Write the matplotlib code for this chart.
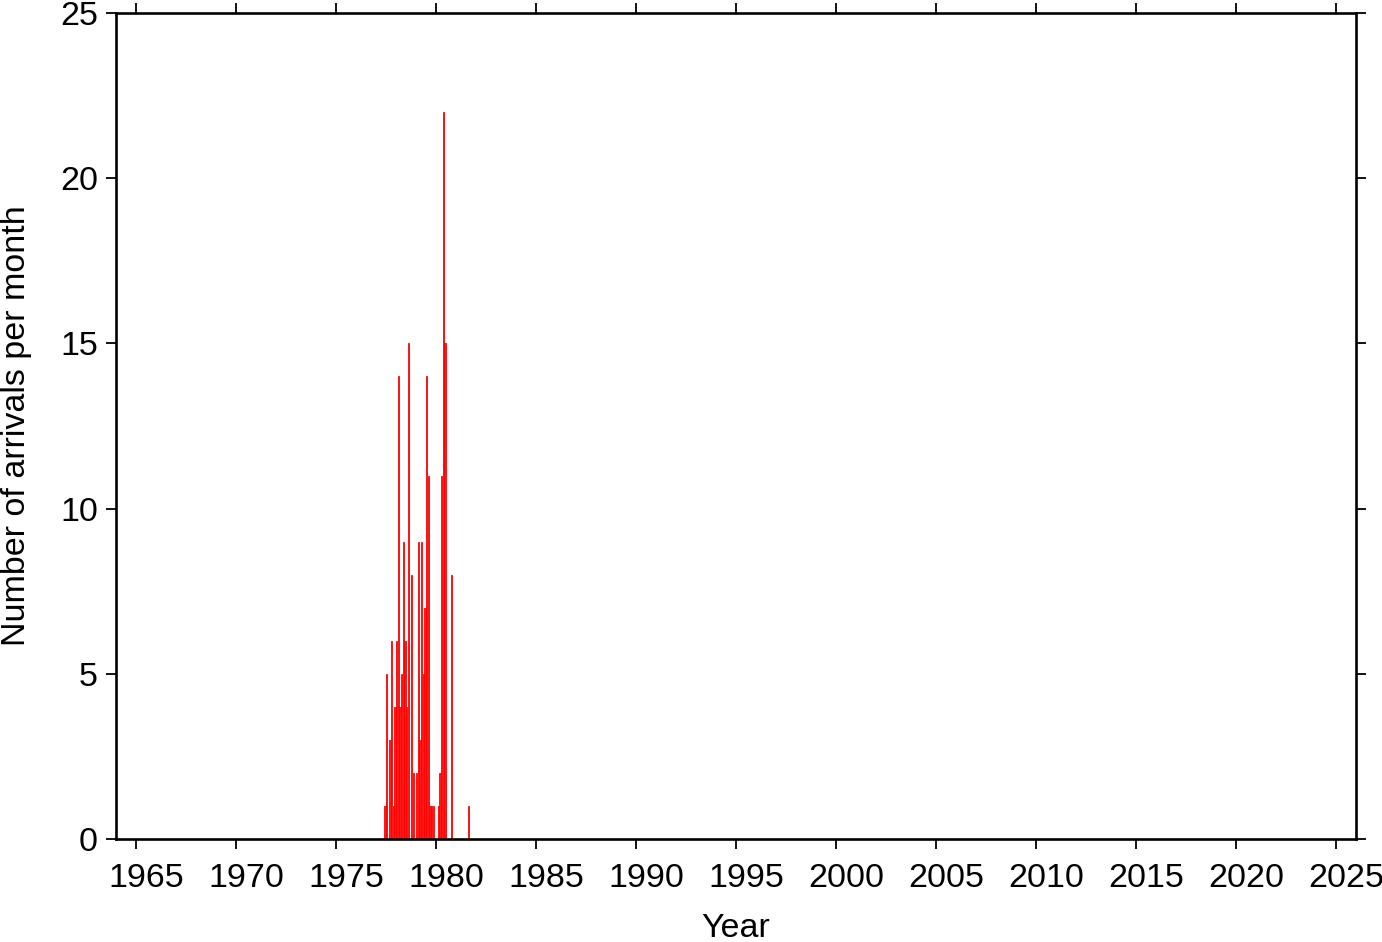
import matplotlib
matplotlib.use("Agg")
import matplotlib.pyplot as plt
import matplotlib.transforms as mtransforms
import pandas as pd

plt.rcParams['font.family'] = ['Liberation Sans', 'DejaVu Sans']

# months with arrivals (months not listed have zero)
months = ['1977-06', '1977-07', '1977-09', '1977-10', '1977-11', '1977-12',
          '1978-01', '1978-02', '1978-03', '1978-04', '1978-05', '1978-06',
          '1978-07', '1978-08', '1978-10', '1978-11',
          '1979-01', '1979-02', '1979-03', '1979-04', '1979-05', '1979-06',
          '1979-07', '1979-08', '1979-09', '1979-10', '1979-11',
          '1980-02', '1980-03', '1980-04', '1980-05', '1980-06', '1980-10',
          '1981-08']
counts = [1, 5, 3, 6, 1, 4,
          6, 14, 4, 5, 9, 6,
          4, 15, 8, 2,
          2, 9, 3, 9, 5, 7,
          14, 11, 1, 1, 1,
          1, 2, 11, 22, 15, 8,
          1]

year_ticks = list(range(1965, 2030, 5))
count_ticks = [0, 5, 10, 15, 20, 25]

d = pd.to_datetime(months)
xpos = d.year + (d.month - 1) / 12.0

fig = plt.figure(figsize=(13.82, 9.42), dpi=100)
ax = fig.add_axes([0.0839, 0.1093, 0.8973, 0.8769])

ax.bar(xpos, counts, width=1 / 12.0 * 0.85, align='edge', color='#ff1a1a',
       edgecolor='#ff0000', linewidth=0.6)

ax.set_xlim(1964, 2026)
ax.set_ylim(0, 25)
ax.set_xticks(year_ticks)
ax.set_yticks(count_ticks)

for s in ax.spines.values():
    s.set_linewidth(1.9)
ax.tick_params(direction='out', length=7, width=1.3, labelsize=24.5,
               top=True, right=True, pad=6)
ax.tick_params(axis='x', pad=10)

# year labels sit a little to the right of their ticks
shift = mtransforms.ScaledTranslation(0.10, 0, fig.dpi_scale_trans)
for lab in ax.get_xticklabels():
    lab.set_transform(lab.get_transform() + shift)

ax.set_xlabel('Year', fontsize=24.5)
ax.set_ylabel('Number of arrivals per month', fontsize=24.5)
ax.xaxis.set_label_coords(0.5, -0.089)
ax.yaxis.set_label_coords(-0.068, 0.5)

fig.savefig('out.png', dpi=100)
